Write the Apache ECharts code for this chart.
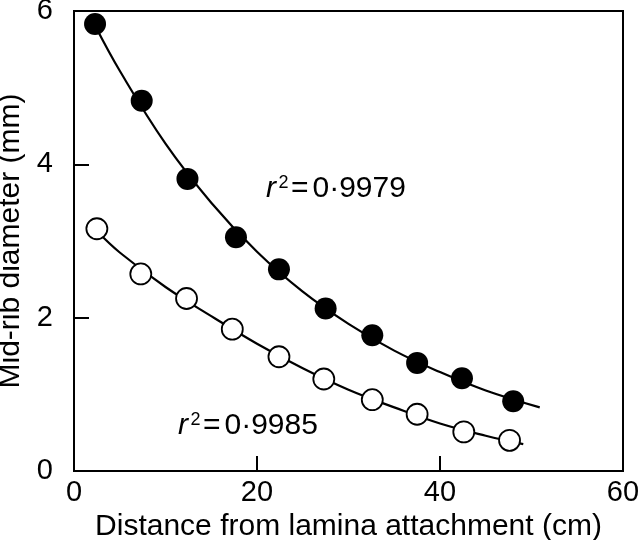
<!DOCTYPE html>
<html>
<head>
<meta charset="utf-8">
<script src="https://cdn.jsdelivr.net/npm/echarts@6/dist/echarts.min.js"></script>
<style>html,body{margin:0;padding:0;background:#fff}#c{width:640px;height:540px}</style>
</head>
<body>
<div id="c"></div>
<script>
// Data
const distanceFilled = [2.3, 7.4, 12.4, 17.7, 22.4, 27.5, 32.6, 37.5, 42.4, 48.0];
const diameterFilled = [5.83, 4.83, 3.81, 3.05, 2.63, 2.12, 1.77, 1.41, 1.21, 0.91];
const distanceOpen = [2.5, 7.3, 12.3, 17.3, 22.4, 27.3, 32.6, 37.5, 42.6, 47.6];
const diameterOpen = [3.16, 2.57, 2.25, 1.85, 1.49, 1.20, 0.93, 0.74, 0.51, 0.40];
const fitFilledX = [2.3, 5, 10, 15, 20, 25, 30, 35, 40, 45, 50.9];
const fitFilledY = [5.81, 5.22, 4.27, 3.50, 2.86, 2.34, 1.92, 1.57, 1.29, 1.05, 0.83];
const fitOpenX = [2.5, 5, 10, 15, 20, 25, 30, 35, 40, 45, 49.1];
const fitOpenY = [3.13, 2.85, 2.40, 2.02, 1.66, 1.34, 1.06, 0.83, 0.62, 0.46, 0.35];
const xTicks = [0, 20, 40, 60];
const yTicks = [0, 2, 4, 6];
const r2Filled = '0·9979';
const r2Open = '0·9985';

const zip = (a, b) => a.map((v, i) => [v, b[i]]);
const FONT = '"Liberation Sans", Arial, Helvetica, sans-serif';

const chart = echarts.init(document.getElementById('c'), null, {renderer: 'canvas'});

// annotation: italic r, superscript 2, "=", value; (x, bottom y)
function r2Text(val, x, base) {
  const st = (t, size, extra) => Object.assign({text: t, fontSize: size, fontFamily: FONT, fill: '#000', verticalAlign: 'bottom', align: 'left'}, extra || {});
  return {
    type: 'group', x: x, y: base, z: 10,
    children: [
      {type: 'text', x: 0, y: 0, style: st('r', 30, {fontStyle: 'italic'})},
      {type: 'text', x: 12.5, y: -12, style: st('2', 18)},
      {type: 'text', x: 25, y: 0, style: st('=', 30)},
      {type: 'text', x: 46.5, y: 0, style: st(val, 30)}
    ]
  };
}

const option = {
  backgroundColor: '#fff',
  animation: false,
  grid: {left: 74, right: 17, top: 11, bottom: 69, outerBoundsMode: 'none', containLabel: false,
    show: true, borderColor: '#000', borderWidth: 2, backgroundColor: 'transparent'},
  xAxis: {
    type: 'value', min: 0, max: 60, interval: 20,
    name: 'Distance from lamina attachment (cm)',
    nameLocation: 'middle', nameGap: 35,
    nameTextStyle: {fontSize: 30, color: '#000', fontFamily: FONT},
    axisLine: {show: true, lineStyle: {color: '#000', width: 2}},
    axisTick: {show: true, inside: true, length: 15, lineStyle: {color: '#000', width: 2}},
    axisLabel: {fontSize: 29, color: '#000', fontFamily: FONT, margin: 7,
      formatter: v => xTicks.includes(v) ? String(v) : ''},
    splitLine: {show: false}
  },
  yAxis: {
    type: 'value', min: 0, max: 6, interval: 2,
    name: 'Mid-rib diameter (mm)',
    nameLocation: 'middle', nameGap: 44,
    nameTextStyle: {fontSize: 30, color: '#000', fontFamily: FONT},
    axisLine: {show: true, lineStyle: {color: '#000', width: 2}},
    axisTick: {show: true, inside: true, length: 15, lineStyle: {color: '#000', width: 2}},
    axisLabel: {fontSize: 29, color: '#000', fontFamily: FONT, margin: 21,
      formatter: v => yTicks.includes(v) ? String(v) : ''},
    splitLine: {show: false}
  },
  series: [
    {type: 'line', data: zip(fitFilledX, fitFilledY), smooth: 0.4, showSymbol: false, symbol: 'none',
      lineStyle: {color: '#000', width: 2.2}, z: 2, silent: true},
    {type: 'line', data: zip(fitOpenX, fitOpenY), smooth: 0.4, showSymbol: false, symbol: 'none',
      lineStyle: {color: '#000', width: 2.2}, z: 2, silent: true},
    {type: 'scatter', data: zip(distanceFilled, diameterFilled), symbol: 'circle', symbolSize: 22,
      itemStyle: {color: '#000', borderColor: '#000', borderWidth: 0, opacity: 1}, z: 3},
    {type: 'scatter', data: zip(distanceOpen, diameterOpen), symbol: 'circle', symbolSize: 21,
      itemStyle: {color: '#fff', borderColor: '#000', borderWidth: 1.8, opacity: 1}, z: 3}
  ],
  graphic: [
    r2Text(r2Filled, 266, 204),
    r2Text(r2Open, 178, 441)
  ]
};
chart.setOption(option);
</script>
</body>
</html>
